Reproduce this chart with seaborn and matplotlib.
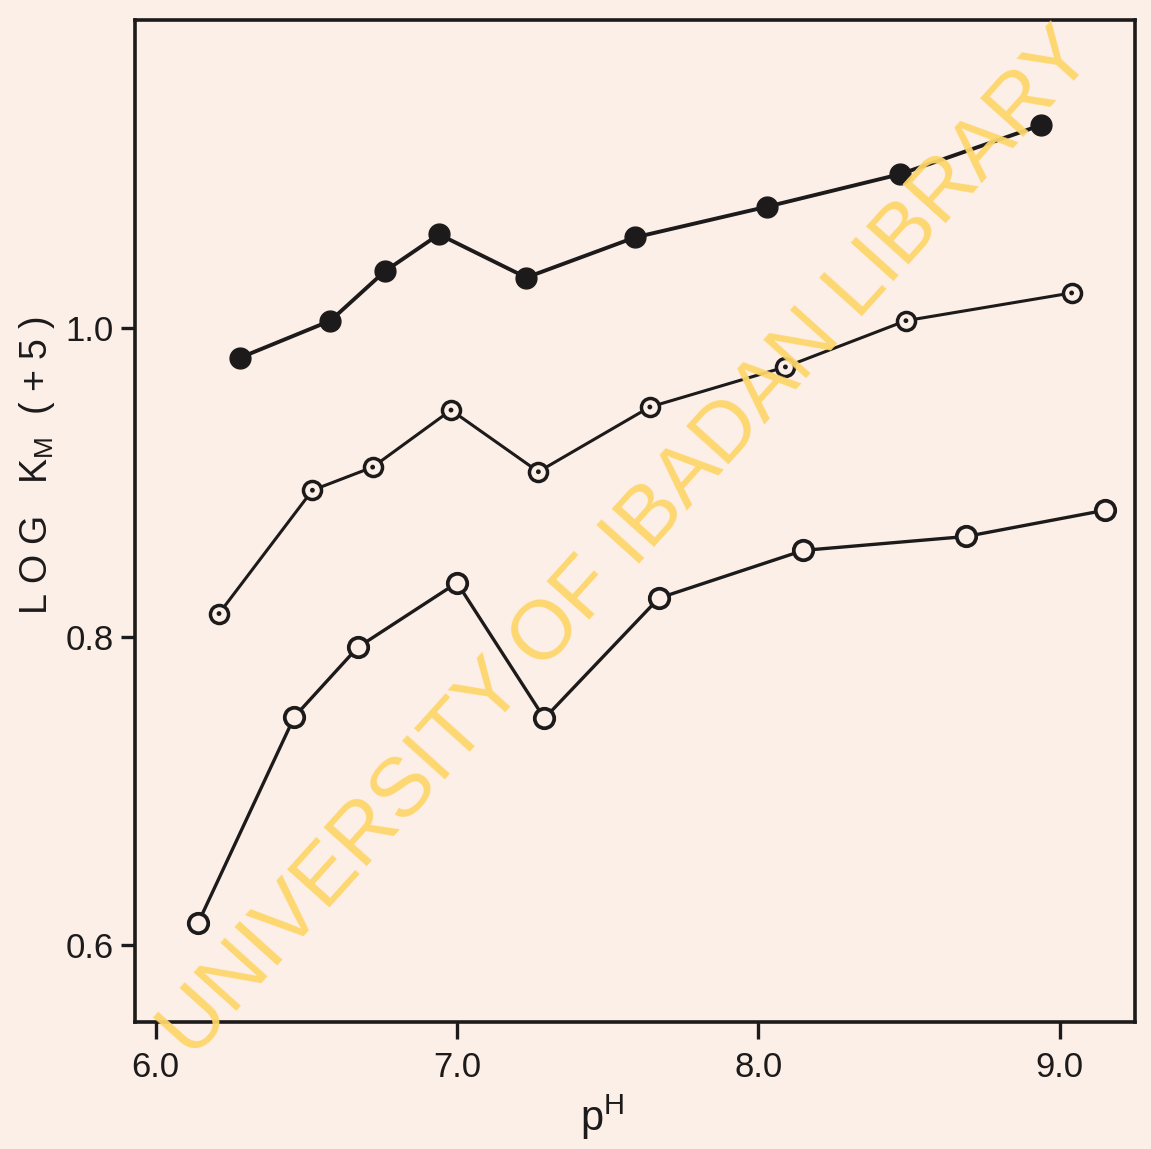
import matplotlib
matplotlib.use("Agg")
import matplotlib.pyplot as plt
import seaborn as sns
import pandas as pd

# ---- data ----
ph_filled = [6.28, 6.58, 6.76, 6.94, 7.23, 7.59, 8.03, 8.47, 8.94]
logkm_filled = [0.981, 1.005, 1.037, 1.061, 1.033, 1.059, 1.079, 1.100, 1.132]

ph_dotted = [6.21, 6.52, 6.72, 6.98, 7.27, 7.64, 8.09, 8.49, 9.04]
logkm_dotted = [0.815, 0.895, 0.910, 0.947, 0.907, 0.949, 0.975, 1.005, 1.023]

ph_open = [6.14, 6.46, 6.67, 7.00, 7.29, 7.67, 8.15, 8.69, 9.15]
logkm_open = [0.614, 0.748, 0.793, 0.835, 0.747, 0.825, 0.856, 0.865, 0.882]

x_ticks = [6.0, 7.0, 8.0, 9.0]
x_tick_labels = ["6.0", "7.0", "8.0", "9.0"]
y_ticks = [0.6, 0.8, 1.0]
y_tick_labels = ["0.6", "0.8", "1.0"]

BG = "#fcefe7"
INK = "#1c1a1a"
FONT = ["Liberation Sans Narrow", "Liberation Sans", "DejaVu Sans"]

sns.set_style("ticks")
plt.rcParams["font.family"] = FONT

fig = plt.figure(figsize=(11.51, 11.49), dpi=100, facecolor=BG)
ax = fig.add_axes([0.117, 0.1105, 0.869, 0.872])
ax.set_facecolor(BG)

df_f = pd.DataFrame({"pH": ph_filled, "logKm": logkm_filled})
df_d = pd.DataFrame({"pH": ph_dotted, "logKm": logkm_dotted})
df_o = pd.DataFrame({"pH": ph_open, "logKm": logkm_open})

sns.lineplot(data=df_f, x="pH", y="logKm", ax=ax, sort=False, color=INK,
             linewidth=2.8, marker="o", markersize=15, markerfacecolor=INK,
             markeredgecolor=INK, markeredgewidth=1)
sns.lineplot(data=df_d, x="pH", y="logKm", ax=ax, sort=False, color=INK,
             linewidth=2.2, marker="o", markersize=13, markerfacecolor=BG,
             markeredgecolor=INK, markeredgewidth=2.5)
sns.scatterplot(data=df_d, x="pH", y="logKm", ax=ax, color=INK, s=12,
                edgecolor="none", zorder=5)
sns.lineplot(data=df_o, x="pH", y="logKm", ax=ax, sort=False, color=INK,
             linewidth=2.4, marker="o", markersize=14, markerfacecolor=BG,
             markeredgecolor=INK, markeredgewidth=2.7)

ax.set_xlim(5.93, 9.25)
ax.set_ylim(0.55, 1.20)
ax.set_xticks(x_ticks)
ax.set_xticklabels(x_tick_labels)
ax.set_yticks(y_ticks)
ax.set_yticklabels(y_tick_labels)
ax.tick_params(axis="x", direction="out", length=12, width=2.4, pad=9,
               labelsize=25, colors=INK)
ax.tick_params(axis="y", direction="out", length=10, width=2.4, pad=5,
               labelsize=25, colors=INK)
for side in ["left", "bottom", "top", "right"]:
    ax.spines[side].set_visible(True)
    ax.spines[side].set_color(INK)
    ax.spines[side].set_linewidth(2.6)
ax.set_xlabel("")
ax.set_ylabel("")

fig.text(0.032, 0.595, r"L O G   K$_{\mathregular{M}}$  ( + 5 )", rotation=90,
         ha="center", va="center", fontsize=27, color=INK, family=FONT)
fig.text(0.523, 0.006, r"p$^{\mathregular{H}}$", ha="center", va="bottom",
         fontsize=30, color=INK, family=FONT)

fig.text(0.545, 0.527, "UNIVERSITY OF IBADAN LIBRARY", rotation=48,
         ha="center", va="center", fontsize=60, color="#fdd66b", alpha=0.95,
         family=["Liberation Sans", "DejaVu Sans"], zorder=10)

fig.savefig("out.png", dpi=100, facecolor=BG)
